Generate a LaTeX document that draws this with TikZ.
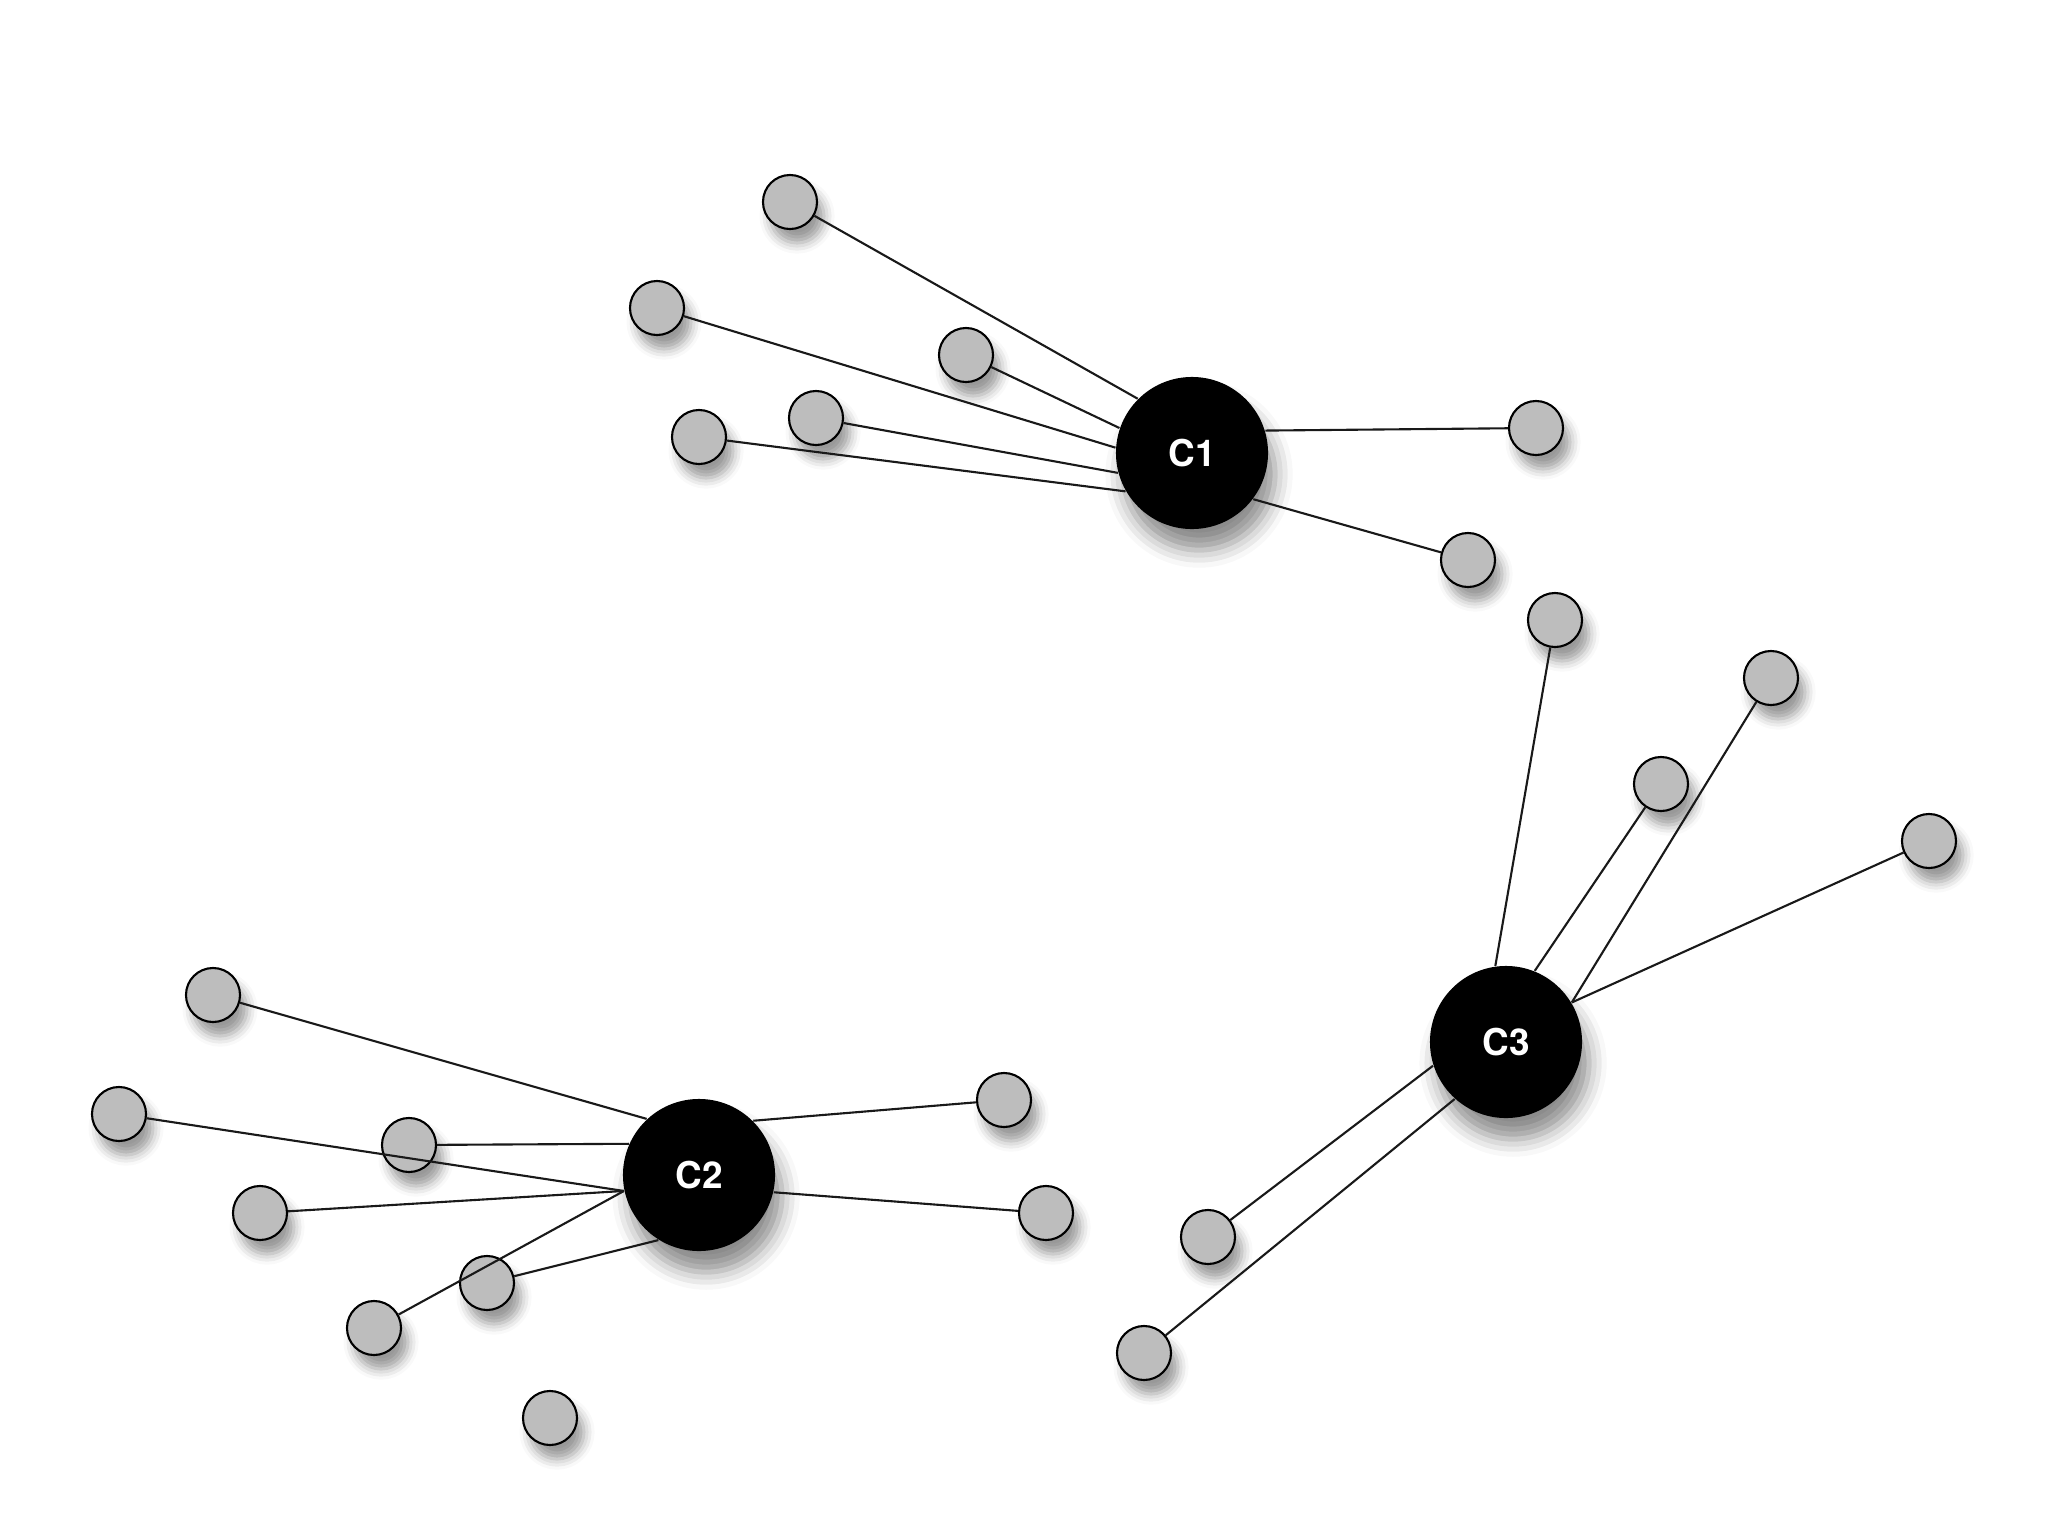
\documentclass[tikz,border=0pt]{standalone}
\usepackage{fontspec}
\setsansfont{TeX Gyre Heros}
\usepackage{tikz}
\usetikzlibrary{shadows.blur}

\begin{document}
\begin{tikzpicture}[x=0.01cm,y=-0.01cm,
  hub/.style={circle,fill=black,minimum size=1.52cm,inner sep=0pt,text=white,
    font=\sffamily\bfseries\fontsize{10.5}{12}\selectfont,
    blur shadow={shadow xshift=2pt,shadow yshift=-6pt,shadow blur radius=5pt,shadow opacity=45}},
  leaf/.style={circle,draw=black,line width=0.6pt,fill=black!26,minimum size=0.54cm,inner sep=0pt,
    blur shadow={shadow xshift=2pt,shadow yshift=-4pt,shadow blur radius=3pt,shadow opacity=40}},
  edge/.style={line width=0.6pt,black!90}]
  \useasboundingbox (0,0) rectangle (2048,1536);
  % hubs
  \node[hub] (c1) at (1192,453) {C1};
  \node[hub] (c2) at (699,1175) {C2};
  \node[hub] (c3) at (1506,1042) {C3};
  % leaves of C1
  \foreach \n/\x/\y in {1/790/202,2/657/308,3/966/355,4/816/418,5/699/437,6/1536/428,7/1468/560}
    \node[leaf] (a\n) at (\x,\y) {};
  % leaves of C2 (b9 stands alone)
  \foreach \n/\x/\y in {1/213/995,2/119/1114,3/409/1145,4/260/1213,5/487/1283,6/374/1328,7/1004/1100,8/1046/1213,9/550/1418}
    \node[leaf] (b\n) at (\x,\y) {};
  % leaves of C3
  \foreach \n/\x/\y in {1/1555/620,2/1771/678,3/1661/784,4/1929/841,5/1208/1237,6/1144/1353}
    \node[leaf] (d\n) at (\x,\y) {};
  % links, each leaving its hub at a fixed angle
  \foreach \n/\a in {1/135,2/176,3/161,4/195,5/210,6/17,7/323}
    \draw[edge] (c1.\a) -- (a\n);
  \foreach \n/\a in {1/133,2/192,3/156,4/192,5/238,6/192,7/45,8/347}
    \draw[edge] (c2.\a) -- (b\n);
  \foreach \n/\a in {1/98,2/31,3/68,4/31,5/198,6/228}
    \draw[edge] (c3.\a) -- (d\n);
\end{tikzpicture}
\end{document}
